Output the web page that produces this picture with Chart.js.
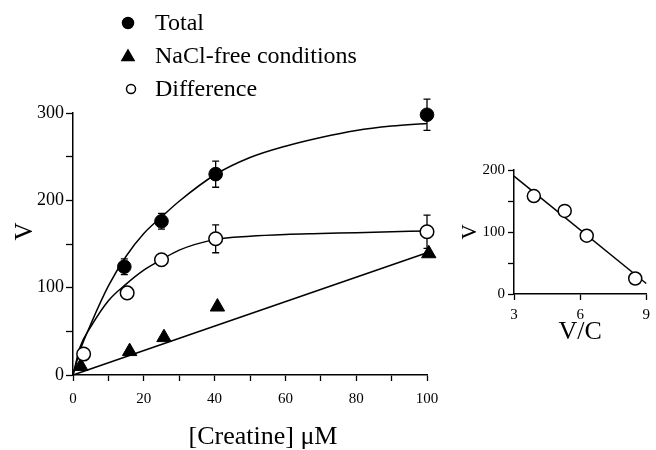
<!DOCTYPE html>
<html>
<head>
<meta charset="utf-8">
<script src="https://cdn.jsdelivr.net/npm/chart.js@4"></script>
<style>
  html, body { margin: 0; padding: 0; background: #fff; }
  #wrap { position: relative; width: 656px; height: 450px; }
  #mainBox { position: absolute; left: 0; top: 0; width: 470px; height: 450px; }
  #insetBox { position: absolute; left: 440px; top: 140px; width: 216px; height: 210px; }
</style>
</head>
<body>
<div id="wrap">
  <div id="mainBox"><canvas id="mainChart"></canvas></div>
  <div id="insetBox"><canvas id="insetChart"></canvas></div>
</div>
<script>
// Valores
const totalX = [14.5, 25, 40.3, 100];
const totalV = [124, 176, 230, 298];
const totalErr = [9, 9, 15, 18];

const freeX = [2.2, 16, 25.7, 40.8, 100.5];
const freeV = [10, 27, 43, 78, 139];

const diffX = [3, 15.3, 25, 40.3, 100];
const diffV = [24, 94, 132, 156, 164];
const diffErr = [0, 0, 0, 16, 19];

// Curvas ajustadas
const fitX = [0, 2, 5, 10, 15, 20, 25, 30, 40, 50, 60, 70, 80, 90, 100];
const totalFit = [0, 28, 58, 102, 136, 162, 181, 199, 229, 249, 262, 272, 280, 285, 288];
const diffFit = [0, 32, 55, 85, 104, 120, 132, 143, 155, 159, 161, 162, 163, 164, 165];
const freeFitX = [0, 100];
const freeFit = [0, 140];

// Gráfico inserido (Scatchard)
const vcX = [3.9, 5.3, 6.3, 8.5];
const vcV = [158, 134, 94, 25];
const vcLineX = [3, 9];
const vcLineV = [190, 17];

const legendLabels = ['Total', 'NaCl-free conditions', 'Difference'];

const serif = "'Liberation Serif', 'DejaVu Serif', serif";

function pts(xs, ys) {
  return xs.map((x, i) => ({ x: x, y: ys[i] }));
}

// barras de erro
const errorBars = {
  id: 'errorBars',
  beforeDatasetsDraw(chart) {
    const ctx = chart.ctx;
    const xs = chart.scales.x, ys = chart.scales.y;
    chart.data.datasets.forEach(ds => {
      if (!ds.errors) return;
      ds.data.forEach((p, i) => {
        const e = ds.errors[i];
        if (!e) return;
        const px = xs.getPixelForValue(p.x);
        const y1 = ys.getPixelForValue(p.y + e);
        const y2 = ys.getPixelForValue(p.y - e);
        ctx.save();
        ctx.strokeStyle = '#000';
        ctx.lineWidth = 1.3;
        ctx.beginPath();
        ctx.moveTo(px, y1); ctx.lineTo(px, y2);
        ctx.moveTo(px - 3.5, y1); ctx.lineTo(px + 3.5, y1);
        ctx.moveTo(px - 3.5, y2); ctx.lineTo(px + 3.5, y2);
        ctx.stroke();
        ctx.restore();
      });
    });
  }
};

// legenda vertical no topo
const legendBox = {
  id: 'legendBox',
  afterDraw(chart) {
    const ctx = chart.ctx;
    const items = chart.data.datasets.filter(ds => ds.legendRow !== undefined);
    items.forEach(ds => {
      const row = ds.legendRow;
      const cy = 23 + row * 33;
      ctx.save();
      ctx.lineWidth = 1.5;
      ctx.strokeStyle = '#000';
      ctx.fillStyle = ds.backgroundColor;
      if (ds.pointStyle === 'triangle') {
        Chart.helpers.drawPoint(ctx, { pointStyle: 'triangle', radius: 7, borderWidth: 1 }, 128, cy + 1);
        ctx.fill();
      } else {
        ctx.beginPath();
        ctx.arc(ds.legendRow === 2 ? 131 : 128, cy, ds.legendRow === 2 ? 4.5 : 5.5, 0, Math.PI * 2);
        ctx.fill();
        ctx.stroke();
      }
      ctx.fillStyle = '#000';
      ctx.font = '24px ' + serif;
      ctx.textBaseline = 'middle';
      ctx.textAlign = 'left';
      ctx.fillText(ds.label, 155, cy + 1);
      ctx.restore();
    });
  }
};

new Chart(document.getElementById('mainChart'), {
  type: 'scatter',
  data: {
    datasets: [
      { label: legendLabels[0], legendRow: 0, data: pts(totalX, totalV), errors: totalErr, clip: false,
        pointStyle: 'circle', pointRadius: 6.8, backgroundColor: '#000', borderColor: '#000', borderWidth: 1, order: 1 },
      { label: legendLabels[1], legendRow: 1, data: pts(freeX, freeV), clip: false,
        pointStyle: 'triangle', pointRadius: 8.3, backgroundColor: '#000', borderColor: '#000', borderWidth: 1, order: 1 },
      { label: legendLabels[2], legendRow: 2, data: pts(diffX, diffV), errors: diffErr, clip: false,
        pointStyle: 'circle', pointRadius: 6.8, backgroundColor: '#fff', borderColor: '#000', borderWidth: 1.5, order: 0 },
      { label: 'fitTotal', data: pts(fitX, totalFit), showLine: true, pointRadius: 0, clip: false,
        borderColor: '#000', borderWidth: 1.5, cubicInterpolationMode: 'monotone', order: 5 },
      { label: 'fitDiff', data: pts(fitX, diffFit), showLine: true, pointRadius: 0, clip: false,
        borderColor: '#000', borderWidth: 1.5, cubicInterpolationMode: 'monotone', order: 5 },
      { label: 'fitFree', data: pts(freeFitX, freeFit), showLine: true, pointRadius: 0, clip: false,
        borderColor: '#000', borderWidth: 1.5, order: 5 }
    ]
  },
  options: {
    responsive: true,
    maintainAspectRatio: false,
    animation: false,
    layout: { padding: { top: 113, right: 43, left: 0, bottom: 0 } },
    plugins: { legend: { display: false }, tooltip: { enabled: false } },
    scales: {
      x: {
        type: 'linear', min: 0, max: 100,
        afterFit(scale) { scale.height = 75; },
        border: { display: true, color: '#000', width: 1.5 },
        grid: { drawOnChartArea: false, drawTicks: true, tickLength: 6, tickColor: '#000', tickWidth: 1.3 },
        ticks: {
          stepSize: 10, color: '#000', padding: 9, maxRotation: 0, autoSkip: false,
          font: { family: serif, size: 15 },
          callback: v => (v % 20 === 0 ? v : '')
        },
        title: { display: true, text: '\u2003[Creatine] μM', color: '#000',
          font: { family: serif, size: 26, lineHeight: 1 }, padding: { top: 0, bottom: 0 } }
      },
      y: {
        type: 'linear', min: 0, max: 300,
        afterFit(scale) { scale.width = 73; },
        border: { display: true, color: '#000', width: 1.5 },
        grid: { drawOnChartArea: false, drawTicks: true, tickLength: 7, tickColor: '#000', tickWidth: 1.3 },
        ticks: {
          stepSize: 50, color: '#000', padding: 2, autoSkip: false,
          font: { family: serif, size: 18 },
          callback: v => (v % 100 === 0 ? v : '')
        },
        title: { display: true, text: '\u2003V', color: '#000',
          font: { family: serif, size: 25, lineHeight: 1 }, padding: { top: 13, bottom: 0 } }
      }
    }
  },
  plugins: [errorBars, legendBox]
});

new Chart(document.getElementById('insetChart'), {
  type: 'scatter',
  data: {
    datasets: [
      { label: 'Difference', data: pts(vcX, vcV), pointStyle: 'circle', pointRadius: 6.5, clip: false,
        backgroundColor: '#fff', borderColor: '#000', borderWidth: 1.5, order: 0 },
      { label: 'fit', data: pts(vcLineX, vcLineV), showLine: true, pointRadius: 0, clip: false,
        borderColor: '#000', borderWidth: 1.5, order: 5 }
    ]
  },
  options: {
    responsive: true,
    maintainAspectRatio: false,
    animation: false,
    layout: { padding: { top: 30, right: 4, left: 0, bottom: 0 } },
    plugins: { legend: { display: false }, tooltip: { enabled: false } },
    scales: {
      x: {
        type: 'linear', min: 3, max: 9,
        afterFit(scale) { scale.height = 56; },
        border: { display: true, color: '#000', width: 1.5 },
        grid: { drawOnChartArea: false, drawTicks: true, tickLength: 6, tickColor: '#000', tickWidth: 1.3 },
        ticks: { stepSize: 3, color: '#000', padding: 6, maxRotation: 0,
          font: { family: serif, size: 15 } },
        title: { display: true, text: 'V/C', color: '#000',
          font: { family: serif, size: 26, lineHeight: 1 }, padding: { top: 0, bottom: 5 } }
      },
      y: {
        type: 'linear', min: 0, max: 200,
        afterFit(scale) { scale.width = 74; },
        border: { display: true, color: '#000', width: 1.5 },
        grid: { drawOnChartArea: false, drawTicks: true, tickLength: 6, tickColor: '#000', tickWidth: 1.3 },
        ticks: { stepSize: 50, color: '#000', padding: 3, autoSkip: false,
          font: { family: serif, size: 15 },
          callback: v => (v % 100 === 0 ? v : '') },
        title: { display: true, text: 'V', color: '#000',
          font: { family: serif, size: 21, lineHeight: 1 }, padding: { top: 20, bottom: 0 } }
      }
    }
  },
  plugins: [errorBars]
});
</script>
</body>
</html>
